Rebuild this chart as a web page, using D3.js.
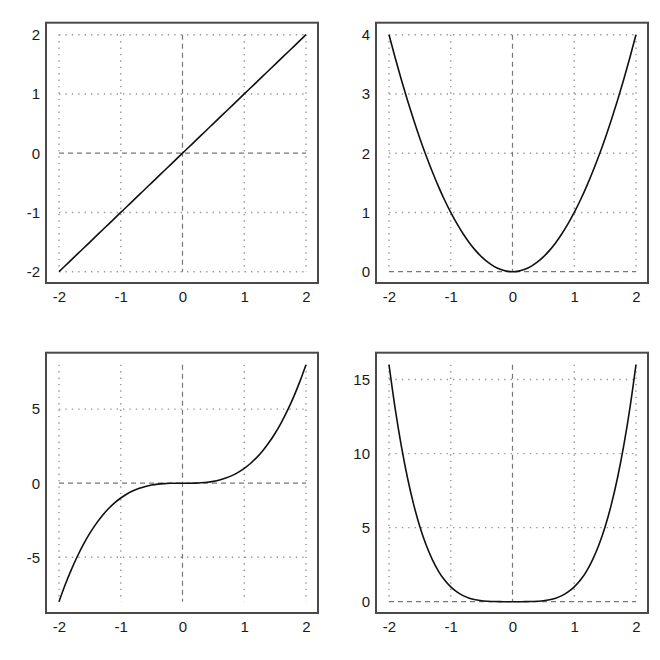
<!DOCTYPE html>
<html><head><meta charset="utf-8">
<script src="https://cdn.jsdelivr.net/npm/d3@7"></script>
<style>body{margin:0;background:#fff}svg{display:block}</style>
</head><body>
<svg id="c" width="660" height="660"></svg>
<script>
const xs = [-2,-1.9,-1.8,-1.7,-1.6,-1.5,-1.4,-1.3,-1.2,-1.1,-1,-0.9,-0.8,-0.7,-0.6,-0.5,-0.4,-0.3,-0.2,-0.1,0,0.1,0.2,0.3,0.4,0.5,0.6,0.7,0.8,0.9,1,1.1,1.2,1.3,1.4,1.5,1.6,1.7,1.8,1.9,2];
const y1 = [-2,-1.9,-1.8,-1.7,-1.6,-1.5,-1.4,-1.3,-1.2,-1.1,-1,-0.9,-0.8,-0.7,-0.6,-0.5,-0.4,-0.3,-0.2,-0.1,0,0.1,0.2,0.3,0.4,0.5,0.6,0.7,0.8,0.9,1,1.1,1.2,1.3,1.4,1.5,1.6,1.7,1.8,1.9,2];
const y2 = [4,3.61,3.24,2.89,2.56,2.25,1.96,1.69,1.44,1.21,1,0.81,0.64,0.49,0.36,0.25,0.16,0.09,0.04,0.01,0,0.01,0.04,0.09,0.16,0.25,0.36,0.49,0.64,0.81,1,1.21,1.44,1.69,1.96,2.25,2.56,2.89,3.24,3.61,4];
const y3 = [-8,-6.859,-5.832,-4.913,-4.096,-3.375,-2.744,-2.197,-1.728,-1.331,-1,-0.729,-0.512,-0.343,-0.216,-0.125,-0.064,-0.027,-0.008,-0.001,0,0.001,0.008,0.027,0.064,0.125,0.216,0.343,0.512,0.729,1,1.331,1.728,2.197,2.744,3.375,4.096,4.913,5.832,6.859,8];
const y4 = [16,13.03,10.5,8.35,6.55,5.06,3.84,2.86,2.07,1.46,1,0.66,0.41,0.24,0.13,0.06,0.03,0.01,0.002,0.0001,0,0.0001,0.002,0.01,0.03,0.06,0.13,0.24,0.41,0.66,1,1.46,2.07,2.86,3.84,5.06,6.55,8.35,10.5,13.03,16];
const xTicks = [-2,-1,0,1,2];
const yTicks1 = [-2,-1,0,1,2];
const yTicks2 = [0,1,2,3,4];
const yTicks3 = [-5,0,5];
const yTicks4 = [0,5,10,15];

const panels = [
  {ox:0, oy:0, ys:y1, dom:[-2,2], yt:yTicks1},
  {ox:330, oy:0, ys:y2, dom:[0,4], yt:yTicks2},
  {ox:0, oy:330, ys:y3, dom:[-8,8], yt:yTicks3},
  {ox:330, oy:330, ys:y4, dom:[0,16], yt:yTicks4}
];

const svg = d3.select("#c");
const F = {l:46, r:318, t:22.7, b:283};
const D = {l:59, r:306, t:34.7, b:271.7};
const fmt = d => String(d);
const FONT = "Arial, 'Liberation Sans', sans-serif";

panels.forEach(p => {
  const g = svg.append("g").attr("transform", `translate(${p.ox},${p.oy})`);
  const x = d3.scaleLinear().domain([-2,2]).range([D.l, D.r]);
  const y = d3.scaleLinear().domain(p.dom).range([D.b, D.t]);
  xTicks.forEach(t => {
    g.append("line").attr("x1", x(t)).attr("x2", x(t)).attr("y1", y(p.dom[1])).attr("y2", y(p.dom[0]))
      .attr("stroke", t === 0 ? "#777" : "#999").attr("stroke-width", t === 0 ? 1.2 : 1.4)
      .attr("stroke-dasharray", t === 0 ? "5,4" : "1.4,5");
  });
  p.yt.forEach(t => {
    g.append("line").attr("x1", x(-2)).attr("x2", x(2)).attr("y1", y(t)).attr("y2", y(t))
      .attr("stroke", t === 0 ? "#777" : "#999").attr("stroke-width", t === 0 ? 1.2 : 1.4)
      .attr("stroke-dasharray", t === 0 ? "5,4" : "1.4,5");
  });
  g.append("rect").attr("x", F.l).attr("y", F.t).attr("width", F.r - F.l).attr("height", F.b - F.t)
    .attr("fill", "none").attr("stroke", "#4a4a4a").attr("stroke-width", 2);
  const line = d3.line().x((d,i) => x(xs[i])).y(d => y(d)).curve(d3.curveMonotoneX);
  g.append("path").datum(p.ys).attr("d", line).attr("fill", "none").attr("stroke", "#111").attr("stroke-width", 1.6);
  const xAxis = d3.axisBottom(x).tickValues(xTicks).tickSize(0).tickPadding(0).tickFormat(fmt);
  const xa = g.append("g").attr("transform", `translate(0,${F.b + 8})`).call(xAxis);
  xa.select(".domain").remove();
  xa.attr("font-family", FONT).attr("font-size", 15);
  xa.selectAll("text").attr("fill", "#1a1a1a").attr("dy", "0.71em");
  const yAxis = d3.axisLeft(y).tickValues(p.yt).tickSize(0).tickPadding(0).tickFormat(fmt);
  const ya = g.append("g").attr("transform", `translate(${F.l - 6},0)`).call(yAxis);
  ya.select(".domain").remove();
  ya.attr("font-family", FONT).attr("font-size", 15);
  ya.selectAll("text").attr("fill", "#1a1a1a");
});
</script>
</body></html>
